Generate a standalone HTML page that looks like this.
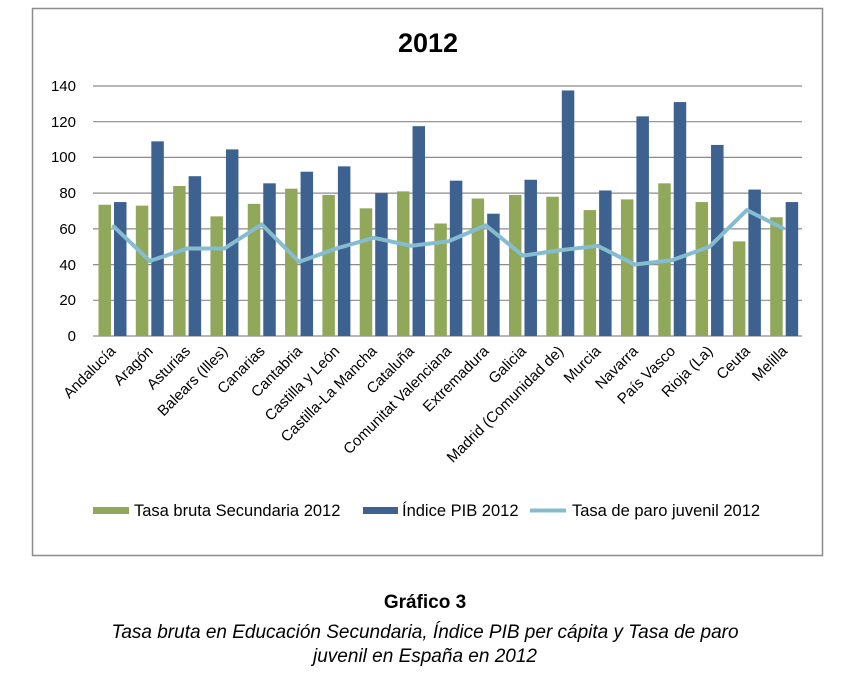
<!DOCTYPE html>
<html><head><meta charset="utf-8"><style>
body{margin:0;background:#fff;width:844px;height:683px;overflow:hidden}
svg{display:block}
</style></head><body>
<svg width="844" height="683" xmlns="http://www.w3.org/2000/svg" font-family="Liberation Sans, DejaVu Sans, sans-serif">
<rect x="32.5" y="8.5" width="790" height="547" fill="#fff" stroke="#8c8c8c" stroke-width="1.5"/>
<text x="428" y="52" font-size="27" font-weight="bold" text-anchor="middle">2012</text>
<g stroke="#8c8c8c" stroke-width="1.2">
<line x1="93" x2="802" y1="86" y2="86"/><line x1="93" x2="802" y1="121.7" y2="121.7"/>
<line x1="93" x2="802" y1="157.4" y2="157.4"/><line x1="93" x2="802" y1="193.1" y2="193.1"/>
<line x1="93" x2="802" y1="228.9" y2="228.9"/><line x1="93" x2="802" y1="264.6" y2="264.6"/>
<line x1="93" x2="802" y1="300.3" y2="300.3"/><line x1="93" x2="802" y1="336" y2="336"/>
</g>
<g font-size="15" text-anchor="end" fill="#000">
<text x="76" y="91">140</text><text x="76" y="127">120</text><text x="76" y="162">100</text>
<text x="76" y="198">80</text><text x="76" y="234">60</text><text x="76" y="270">40</text>
<text x="76" y="305">20</text><text x="76" y="341">0</text>
</g>
<g id="bars"></g>
<g id="labels" font-size="15" text-anchor="end"></g>
<polyline id="line" fill="none" stroke="#86bccf" stroke-width="4" stroke-linejoin="round"/>
<rect x="93" y="507" width="36" height="7" fill="#91a85a"/>
<text x="134" y="516" font-size="16.5">Tasa bruta Secundaria 2012</text>
<rect x="363" y="507" width="35" height="7" fill="#3d6290"/>
<text x="402" y="516" font-size="16.5">Índice PIB 2012</text>
<line x1="530" x2="566" y1="510.5" y2="510.5" stroke="#86bccf" stroke-width="4"/>
<text x="572" y="516" font-size="16.5">Tasa de paro juvenil 2012</text>
<text x="425" y="608" font-size="19" font-weight="bold" text-anchor="middle">Gráfico 3</text>
<text x="425" y="638" font-size="19" font-style="italic" text-anchor="middle">Tasa bruta en Educación Secundaria, Índice PIB per cápita y Tasa de paro</text>
<text x="425" y="662" font-size="19" font-style="italic" text-anchor="middle">juvenil en España en 2012</text>
</svg>
<script>
var g=[73.5,73,84,67,74,82.5,79,71.5,81,63,77,79,78,70.5,76.5,85.5,75,53,66.5];
var b=[75,109,89.5,104.5,85.5,92,95,80,117.5,87,68.5,87.5,137.5,81.5,123,131,107,82,75];
var l=[62,42,49,49,62.5,41.5,49,55,50.5,53,62,45,48,50.5,40,42.5,50,70.5,60];
var n=["Andalucía","Aragón","Asturias","Balears (Illes)","Canarias","Cantabria","Castilla y León","Castilla-La Mancha","Cataluña","Comunitat Valenciana","Extremadura","Galicia","Madrid (Comunidad de)","Murcia","Navarra","País Vasco","Rioja (La)","Ceuta","Melilla"];
var ns="http://www.w3.org/2000/svg",B=document.getElementById('bars'),L=document.getElementById('labels'),pts=[];
function y(v){return 336-v*250/140}
for(var i=0;i<19;i++){var x0=93+i*709/19,c=x0+19.5;
var r=document.createElementNS(ns,'rect');r.setAttribute('x',x0+5.5);r.setAttribute('width',12.5);r.setAttribute('y',y(g[i]));r.setAttribute('height',336-y(g[i]));r.setAttribute('fill','#91a85a');B.appendChild(r);
r=document.createElementNS(ns,'rect');r.setAttribute('x',x0+21);r.setAttribute('width',12.5);r.setAttribute('y',y(b[i]));r.setAttribute('height',336-y(b[i]));r.setAttribute('fill','#3d6290');B.appendChild(r);
pts.push(c+','+y(l[i]));
var t=document.createElementNS(ns,'text');t.setAttribute('transform','translate('+(c+4)+',352) rotate(-45)');t.textContent=n[i];L.appendChild(t);}
document.getElementById('line').setAttribute('points',pts.join(' '));
</script>
</body></html>
